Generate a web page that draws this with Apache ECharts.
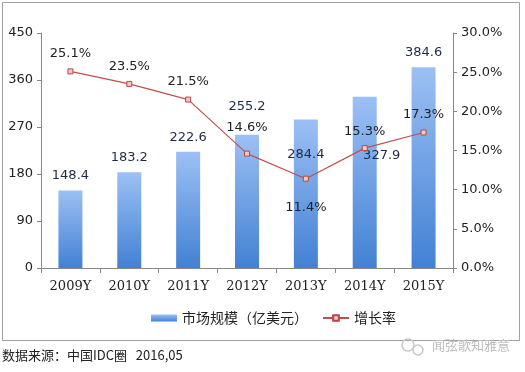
<!DOCTYPE html>
<html><head><meta charset="utf-8">
<script src="https://cdn.jsdelivr.net/npm/echarts@6/dist/echarts.min.js"></script>
<style>html,body{margin:0;padding:0;background:#fff}#c{width:525px;height:372px}</style>
</head><body><div id="c"></div>
<script>
var categories = ['2009Y','2010Y','2011Y','2012Y','2013Y','2014Y','2015Y'];
var marketSize = [148.4, 183.2, 222.6, 255.2, 284.4, 327.9, 384.6];
var growthRate = [25.1, 23.5, 21.5, 14.6, 11.4, 15.3, 17.3];
var leftTicks = [0, 90, 180, 270, 360, 450];
var rightTicks = [0, 5, 10, 15, 20, 25, 30];

// label placement styling (Excel-like manual label placement)
var barLabelOffsets = [[0,-3],[0,-3],[0,-3],[0,-17],[0,47],[17,70],[0,-3]];
var lineLabelPos = ['top','top','top','top','bottom','top','top'];
var lineLabelOffsets = [[0,-3],[0,-3],[0,-3],[0,-12],[0,14],[0,-2],[0,-3]];

var barData = marketSize.map(function(v,i){
  return {value:v, label:{offset:barLabelOffsets[i]}};
});
var lineData = growthRate.map(function(v,i){
  return {value:v, label:{position:lineLabelPos[i], offset:lineLabelOffsets[i]}};
});

var chart = echarts.init(document.getElementById('c'));
var sans = '"DejaVu Sans", Verdana, sans-serif';
chart.setOption({
  animation:false,
  grid:{left:41, right:72, top:33, bottom:104},
  legend:{
    bottom:42, left:146, itemGap:14, itemWidth:26, itemHeight:7,
    textStyle:{fontSize:14, color:'#222', fontFamily:'"Noto Sans CJK SC", sans-serif'},
    data:[
      {name:'市场规模（亿美元）', icon:'rect'},
      {name:'增长率'}
    ]
  },
  xAxis:{
    type:'category', data:categories,
    axisLine:{lineStyle:{color:'#888'}},
    axisTick:{show:true, length:5, lineStyle:{color:'#888'}},
    axisLabel:{fontSize:13, color:'#222', margin:12, fontFamily:'"DejaVu Serif", "Liberation Serif", serif'}
  },
  yAxis:[
    {type:'value', min:0, max:450, interval:90, position:'left',
     axisLine:{show:true, lineStyle:{color:'#888'}},
     axisTick:{show:true, length:4, lineStyle:{color:'#888'}},
     splitLine:{show:false},
     axisLabel:{fontSize:13, color:'#222', margin:8, fontFamily:sans}},
    {type:'value', min:0, max:30, interval:5, position:'right',
     axisLine:{show:true, lineStyle:{color:'#888'}},
     axisTick:{show:true, length:4, lineStyle:{color:'#888'}},
     splitLine:{show:false},
     axisLabel:{fontSize:13, color:'#222', margin:8, fontFamily:sans,
       formatter:function(v){return v.toFixed(1)+'%';}}}
  ],
  series:[
    {name:'市场规模（亿美元）', type:'bar', yAxisIndex:0, barWidth:24, data:barData,
     itemStyle:{color:new echarts.graphic.LinearGradient(0,0,0,1,[
       {offset:0,color:'#9cc0f4'},{offset:1,color:'#4281d4'}])},
     label:{show:true, position:'top', distance:5, fontSize:13, color:'#1f2a44', fontFamily:sans}},
    {name:'增长率', type:'line', yAxisIndex:1, data:lineData,
     symbol:'rect', symbolSize:5, showAllSymbol:true,
     lineStyle:{color:'#c0504d', width:1.2},
     itemStyle:{color:'#f3c9c8', borderColor:'#b84745', borderWidth:1},
     label:{show:true, position:'top', distance:5, fontSize:13, color:'#222', fontFamily:sans,
       formatter:function(p){return p.value.toFixed(1)+'%';}}}
  ],
  graphic:[
    {type:'rect', shape:{x:2.5,y:2.5,width:517,height:338}, style:{fill:null, stroke:'#a0a0a0', lineWidth:1}, silent:true, z:-1},
    {type:'text', left:2, top:349, style:{text:'数据来源：中国IDC圈   2016,05', fontSize:13, fill:'#222', fontFamily:'"Noto Sans CJK SC", sans-serif'}},
    {type:'circle', shape:{cx:408, cy:345, r:6}, style:{fill:null, stroke:'#c8c8c8', lineWidth:1.5}},
    {type:'circle', shape:{cx:418, cy:350, r:5}, style:{fill:null, stroke:'#c8c8c8', lineWidth:1.5}},
    {type:'text', left:432, top:339, style:{text:'闻弦歌知雅意', fontSize:13, fill:'#bdbdbd', fontFamily:'"Noto Sans CJK SC", sans-serif'}}
  ]
});
</script></body></html>
